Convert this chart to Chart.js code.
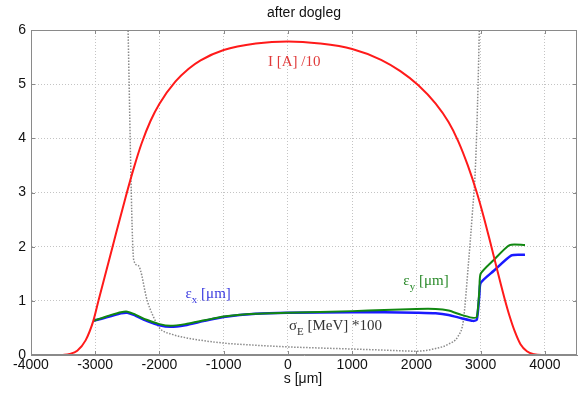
<!DOCTYPE html>
<html>
<head>
<meta charset="utf-8">
<script src="https://cdn.jsdelivr.net/npm/chart.js@4/dist/chart.umd.min.js"></script>
<style>
  html, body { margin: 0; padding: 0; background: #fff; }
  #wrap { width: 580px; height: 394px; position: relative; }
</style>
</head>
<body>
<div id="wrap"><canvas id="c"></canvas></div>
<script>
// current I[A]/10
const curS = [-3520, -3400, -3280, -3150, -3030, -2950, -2730, -2530, -2400, -2280, -2140, -2000, -1750, -1550, -1360, -1000, -500, 0, 500, 1000, 1450, 1750, 2030, 2300, 2500, 2650, 2800, 2940, 3050, 3150, 3260, 3375, 3450, 3530, 3620, 3720, 3830, 3950, 4180];
const curVal = [0, 0.02, 0.08, 0.27, 0.63, 1.0, 2.0, 2.9, 3.45, 3.9, 4.32, 4.64, 5.05, 5.28, 5.44, 5.63, 5.75, 5.79, 5.75, 5.65, 5.45, 5.24, 4.98, 4.64, 4.3, 3.95, 3.5, 3.0, 2.54, 2.08, 1.56, 1.03, 0.72, 0.44, 0.2, 0.07, 0.015, 0, 0];

// emittance x
const exS = [-3030, -2900, -2750, -2600, -2500, -2400, -2200, -2000, -1830, -1600, -1300, -1000, -500, 0, 1000, 1500, 2000, 2300, 2500, 2700, 2880, 2940, 2980, 3000, 3200, 3480, 3690];
const exVal = [0.63, 0.67, 0.72, 0.77, 0.78, 0.74, 0.63, 0.55, 0.52, 0.55, 0.63, 0.7, 0.76, 0.78, 0.79, 0.79, 0.78, 0.77, 0.74, 0.68, 0.63, 0.65, 1.1, 1.33, 1.55, 1.84, 1.85];

// emittance y
const eyS = [-3030, -2900, -2750, -2600, -2500, -2400, -2200, -2000, -1830, -1600, -1300, -1000, -500, 0, 1000, 1500, 2000, 2300, 2500, 2700, 2860, 2940, 2980, 3000, 3200, 3450, 3690];
const eyVal = [0.63, 0.68, 0.74, 0.79, 0.8, 0.76, 0.65, 0.57, 0.54, 0.57, 0.64, 0.71, 0.76, 0.78, 0.81, 0.83, 0.85, 0.85, 0.82, 0.74, 0.69, 0.7, 1.2, 1.5, 1.75, 2.03, 2.03];

// energy spread sigma_E [MeV]*100
const sigS = [-2500, -2400, -2330, -2190, -2100, -2000, -1800, -1500, -1000, -500, 0, 1000, 1500, 2000, 2300, 2500, 2650, 2730, 2810, 2870, 2920, 2960, 2990];
const sigVal = [6.6, 1.75, 1.65, 1.0, 0.72, 0.5, 0.38, 0.3, 0.22, 0.18, 0.15, 0.11, 0.09, 0.07, 0.12, 0.2, 0.35, 0.63, 1.69, 2.6, 3.5, 5.0, 6.6];

const xTicks = [-4000, -3000, -2000, -1000, 0, 1000, 2000, 3000, 4000];
const yTicks = [0, 1, 2, 3, 4, 5, 6];

// text labels in the plot: [s, value, main, sub, rest, colour]
const notes = [
    [-312, 5.41, 'I [A] /10', '', '', '#e03a3a'],
    [-1594, 1.13, 'ε', 'x', ' [μm]', '#3a3ae0'],
    [1797, 1.37, 'ε', 'y', ' [μm]', '#2a8a2a'],
    [16, 0.54, 'σ', 'E', ' [MeV] *100', '#333333']
];

function pts(xs, ys) {
    return xs.map((x, i) => ({ x: x, y: ys[i] }));
}

// 상자, 제목, 주석 그리기
const decor = {
    id: 'decor',
    afterDraw(chart) {
        const ctx = chart.ctx;
        const a = chart.chartArea;
        const xs = chart.scales.x, ys = chart.scales.y;
        ctx.save();
        ctx.strokeStyle = '#8a8a8a';
        ctx.lineWidth = 1;
        ctx.strokeRect(a.left + 0.5, a.top + 0.5, a.right - a.left - 1, a.bottom - a.top - 1);
        // small inward tick marks
        ctx.beginPath();
        xTicks.forEach(t => {
            const px = Math.round(xs.getPixelForValue(t)) + 0.5;
            ctx.moveTo(px, a.bottom); ctx.lineTo(px, a.bottom - 4);
            ctx.moveTo(px, a.top); ctx.lineTo(px, a.top + 4);
        });
        yTicks.forEach(t => {
            const py = Math.round(ys.getPixelForValue(t)) + 0.5;
            ctx.moveTo(a.left, py); ctx.lineTo(a.left + 4, py);
            ctx.moveTo(a.right, py); ctx.lineTo(a.right - 4, py);
        });
        ctx.stroke();

        ctx.fillStyle = '#111';
        ctx.textAlign = 'center';
        ctx.textBaseline = 'middle';
        ctx.font = '14px "Liberation Sans", Arial, sans-serif';
        ctx.fillText('after dogleg', 304, 13);
        ctx.fillText('s [μm]', 303, 379);

        ctx.textAlign = 'left';
        notes.forEach(n => {
            let px = xs.getPixelForValue(n[0]);
            const py = ys.getPixelForValue(n[1]);
            ctx.fillStyle = n[5];
            ctx.font = '15px "Liberation Serif", "Times New Roman", serif';
            ctx.fillText(n[2], px, py);
            px += ctx.measureText(n[2]).width;
            if (n[3]) {
                ctx.font = '11px "Liberation Serif", "Times New Roman", serif';
                ctx.fillText(n[3], px, py + 6);
                px += ctx.measureText(n[3]).width;
            }
            if (n[4]) {
                ctx.font = '15px "Liberation Serif", "Times New Roman", serif';
                ctx.fillText(n[4], px, py);
            }
        });
        ctx.restore();
    }
};

new Chart(document.getElementById('c'), {
    type: 'line',
    data: {
        datasets: [{
            data: pts(curS, curVal),
            borderColor: '#ff1a1a',
            borderWidth: 2,
            cubicInterpolationMode: 'monotone',
            order: 0
        }, {
            data: pts(eyS, eyVal),
            borderColor: '#118811',
            borderWidth: 2,
            tension: 0.2,
            order: 1
        }, {
            data: pts(exS, exVal),
            borderColor: '#1a1aff',
            borderWidth: 2.5,
            tension: 0.2,
            order: 2
        }, {
            data: pts(sigS, sigVal),
            borderColor: '#8a8a8a',
            borderWidth: 1.5,
            borderDash: [1.5, 1.5],
            cubicInterpolationMode: 'monotone',
            order: 3
        }]
    },
    options: {
        responsive: true,
        maintainAspectRatio: false,
        animation: false,
        elements: { point: { radius: 0 } },
        layout: { padding: { left: 0, right: 3, top: 30, bottom: 0 } },
        plugins: {
            legend: { display: false },
            title: { display: false },
            tooltip: { enabled: false }
        },
        scales: {
            x: {
                type: 'linear',
                min: -4000,
                max: 4500,
                afterFit: s => { s.height = 39; },
                afterBuildTicks: s => { s.ticks = xTicks.map(v => ({ value: v })); },
                ticks: {
                    color: '#111',
                    padding: 2,
                    maxRotation: 0,
                    callback: v => String(v),
                    font: { size: 14, family: '"Liberation Sans", Arial, sans-serif' }
                },
                grid: { color: '#c4c4c4', drawTicks: false },
                border: { color: '#8a8a8a', dash: [1, 2] }
            },
            y: {
                min: 0,
                max: 6,
                afterFit: s => { s.width = 31; },
                afterBuildTicks: s => { s.ticks = yTicks.map(v => ({ value: v })); },
                ticks: {
                    color: '#111',
                    padding: 5,
                    callback: v => String(v),
                    font: { size: 14, family: '"Liberation Sans", Arial, sans-serif' }
                },
                grid: { color: '#c4c4c4', drawTicks: false },
                border: { color: '#8a8a8a', dash: [1, 2] }
            }
        }
    },
    plugins: [decor]
});
</script>
</body>
</html>
